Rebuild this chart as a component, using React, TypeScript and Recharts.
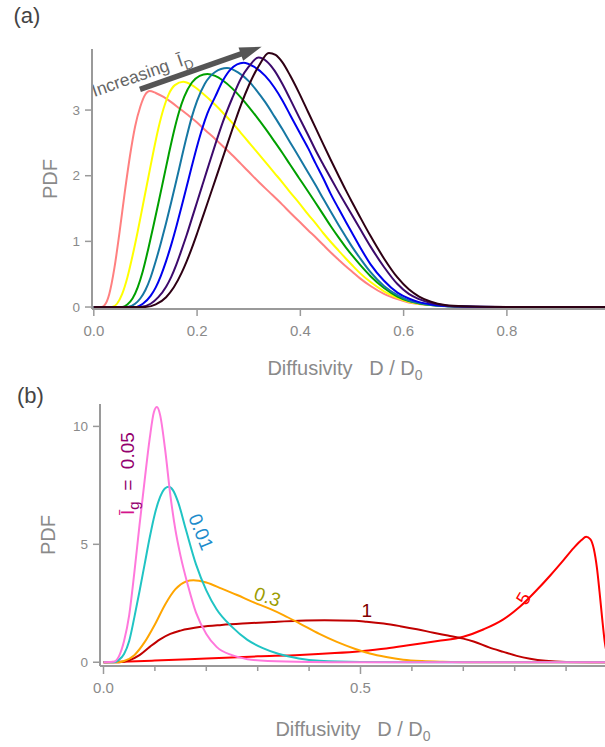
import { LineChart, Line, XAxis, YAxis, ReferenceLine, ReferenceDot } from 'recharts';

const FONT = '"Liberation Sans", Arial, sans-serif';
const AXIS = '#9a9a9a';
const TICK = '#8a8a8a';

// panel (a): PDF curves for increasing I_D, [D/D0, PDF]
const curveA1 = [[0, 0], [0.015, 0], [0.022, 0.04], [0.03, 0.2], [0.04, 0.6], [0.05, 1.15], [0.06, 1.75], [0.07, 2.3], [0.08, 2.75], [0.09, 3.05], [0.1, 3.24], [0.108, 3.29], [0.12, 3.26], [0.135, 3.2], [0.15, 3.12], [0.165, 3.03], [0.183, 2.92], [0.2, 2.81], [0.215, 2.7], [0.235, 2.56], [0.25, 2.45], [0.27, 2.3], [0.285, 2.18], [0.3, 2.06], [0.32, 1.9], [0.34, 1.75], [0.365, 1.56], [0.38, 1.44], [0.397, 1.31], [0.415, 1.17], [0.43, 1.06], [0.445, 0.94], [0.459, 0.83], [0.474, 0.72], [0.488, 0.62], [0.5, 0.54], [0.515, 0.44], [0.536, 0.32], [0.562, 0.2], [0.588, 0.12], [0.61, 0.07], [0.63, 0.045], [0.653, 0.03], [0.7, 0.01], [0.75, 0], [0.99, 0]];
const curveA2 = [[0, 0], [0.035, 0], [0.045, 0.05], [0.055, 0.2], [0.065, 0.45], [0.075, 0.78], [0.085, 1.15], [0.095, 1.55], [0.105, 1.95], [0.115, 2.35], [0.125, 2.72], [0.135, 3.02], [0.145, 3.24], [0.157, 3.38], [0.173, 3.43], [0.19, 3.38], [0.21, 3.26], [0.235, 3.08], [0.25, 2.96], [0.27, 2.79], [0.285, 2.65], [0.3, 2.51], [0.315, 2.37], [0.332, 2.21], [0.35, 2.04], [0.365, 1.9], [0.38, 1.75], [0.397, 1.59], [0.415, 1.41], [0.43, 1.27], [0.445, 1.12], [0.459, 0.99], [0.474, 0.86], [0.488, 0.74], [0.5, 0.64], [0.515, 0.52], [0.536, 0.38], [0.562, 0.24], [0.588, 0.14], [0.61, 0.08], [0.63, 0.05], [0.653, 0.03], [0.7, 0.008], [0.76, 0], [0.99, 0]];
const curveA3 = [[0, 0], [0.055, 0], [0.065, 0.04], [0.075, 0.13], [0.085, 0.3], [0.095, 0.55], [0.105, 0.87], [0.115, 1.22], [0.125, 1.58], [0.135, 1.95], [0.145, 2.32], [0.155, 2.67], [0.165, 2.97], [0.175, 3.2], [0.19, 3.42], [0.205, 3.52], [0.22, 3.55], [0.235, 3.52], [0.25, 3.45], [0.268, 3.33], [0.285, 3.19], [0.3, 3.05], [0.315, 2.9], [0.332, 2.72], [0.35, 2.52], [0.365, 2.35], [0.38, 2.17], [0.397, 1.97], [0.415, 1.76], [0.43, 1.58], [0.445, 1.4], [0.459, 1.23], [0.474, 1.06], [0.488, 0.91], [0.5, 0.79], [0.515, 0.65], [0.536, 0.47], [0.562, 0.29], [0.588, 0.16], [0.61, 0.09], [0.63, 0.055], [0.653, 0.03], [0.7, 0.008], [0.77, 0], [0.99, 0]];
const curveA4 = [[0, 0], [0.065, 0], [0.08, 0.05], [0.09, 0.13], [0.1, 0.26], [0.11, 0.45], [0.12, 0.7], [0.13, 0.98], [0.14, 1.28], [0.15, 1.6], [0.16, 1.93], [0.17, 2.27], [0.18, 2.6], [0.19, 2.9], [0.2, 3.14], [0.215, 3.4], [0.235, 3.58], [0.258, 3.64], [0.28, 3.57], [0.3, 3.44], [0.315, 3.3], [0.332, 3.12], [0.35, 2.9], [0.365, 2.71], [0.38, 2.51], [0.397, 2.29], [0.415, 2.05], [0.43, 1.85], [0.445, 1.64], [0.459, 1.45], [0.474, 1.25], [0.488, 1.07], [0.5, 0.92], [0.515, 0.75], [0.536, 0.53], [0.562, 0.32], [0.588, 0.18], [0.61, 0.1], [0.63, 0.06], [0.653, 0.03], [0.7, 0.008], [0.78, 0], [0.99, 0]];
const curveA5 = [[0, 0], [0.08, 0], [0.095, 0.05], [0.11, 0.17], [0.12, 0.3], [0.13, 0.48], [0.14, 0.7], [0.15, 0.95], [0.16, 1.23], [0.17, 1.53], [0.18, 1.84], [0.19, 2.15], [0.2, 2.45], [0.21, 2.72], [0.22, 2.95], [0.235, 3.2], [0.25, 3.45], [0.265, 3.62], [0.29, 3.72], [0.31, 3.66], [0.332, 3.52], [0.35, 3.34], [0.365, 3.15], [0.38, 2.93], [0.397, 2.68], [0.415, 2.42], [0.43, 2.18], [0.445, 1.95], [0.459, 1.72], [0.474, 1.5], [0.488, 1.3], [0.5, 1.13], [0.515, 0.92], [0.536, 0.65], [0.562, 0.4], [0.588, 0.22], [0.61, 0.13], [0.63, 0.075], [0.653, 0.04], [0.7, 0.01], [0.78, 0], [0.99, 0]];
const curveA6 = [[0, 0], [0.09, 0], [0.11, 0.05], [0.125, 0.15], [0.14, 0.31], [0.15, 0.46], [0.16, 0.65], [0.17, 0.87], [0.18, 1.1], [0.19, 1.35], [0.2, 1.6], [0.21, 1.85], [0.22, 2.1], [0.235, 2.47], [0.25, 2.82], [0.268, 3.18], [0.285, 3.48], [0.3, 3.66], [0.319, 3.8], [0.335, 3.74], [0.35, 3.6], [0.365, 3.4], [0.38, 3.17], [0.397, 2.9], [0.415, 2.62], [0.43, 2.38], [0.445, 2.16], [0.459, 1.96], [0.474, 1.75], [0.488, 1.56], [0.5, 1.4], [0.515, 1.2], [0.536, 0.92], [0.562, 0.61], [0.588, 0.35], [0.61, 0.2], [0.63, 0.12], [0.653, 0.06], [0.68, 0.025], [0.72, 0.005], [0.8, 0], [0.99, 0]];
const curveA7 = [[0, 0], [0.1, 0], [0.12, 0.04], [0.14, 0.15], [0.155, 0.3], [0.17, 0.52], [0.18, 0.7], [0.19, 0.9], [0.2, 1.12], [0.21, 1.35], [0.22, 1.58], [0.235, 1.93], [0.25, 2.28], [0.268, 2.7], [0.285, 3.08], [0.3, 3.37], [0.32, 3.68], [0.339, 3.87], [0.352, 3.84], [0.365, 3.73], [0.38, 3.53], [0.397, 3.27], [0.415, 2.97], [0.43, 2.72], [0.445, 2.47], [0.459, 2.24], [0.474, 2.0], [0.488, 1.78], [0.5, 1.6], [0.515, 1.38], [0.536, 1.08], [0.562, 0.74], [0.588, 0.45], [0.61, 0.27], [0.63, 0.16], [0.653, 0.08], [0.68, 0.03], [0.717, 0.01], [0.8, 0], [0.99, 0]];
const colorsA = ['#ff8080', '#ffff00', '#00a000', '#1677a3', '#0000ee', '#3c0a6c', '#2e0014'];
const ticksAx = [0, 0.2, 0.4, 0.6, 0.8];
const ticksAy = [0, 1, 2, 3];

// panel (b): PDF for several I_g values
const curveB005 = [[0, 0], [0.02, 0.02], [0.03, 0.25], [0.04, 0.9], [0.05, 2.0], [0.06, 3.8], [0.07, 5.8], [0.08, 7.7], [0.09, 9.5], [0.098, 10.6], [0.104, 10.82], [0.11, 10.5], [0.12, 9.0], [0.13, 7.1], [0.14, 5.6], [0.15, 4.5], [0.165, 3.2], [0.18, 2.1], [0.2, 1.2], [0.22, 0.65], [0.25, 0.3], [0.28, 0.13], [0.32, 0.05], [0.4, 0.01], [0.5, 0], [0.98, 0]];
const curveB001 = [[0, 0], [0.02, 0], [0.03, 0.1], [0.04, 0.35], [0.05, 0.9], [0.06, 1.9], [0.07, 3.0], [0.08, 4.15], [0.09, 5.3], [0.1, 6.3], [0.11, 7.0], [0.12, 7.38], [0.127, 7.44], [0.135, 7.3], [0.145, 6.8], [0.16, 5.65], [0.18, 4.15], [0.2, 3.05], [0.22, 2.25], [0.25, 1.5], [0.28, 0.95], [0.31, 0.6], [0.34, 0.36], [0.38, 0.16], [0.42, 0.06], [0.5, 0.01], [0.6, 0], [0.98, 0]];
const curveB03 = [[0, 0], [0.03, 0], [0.04, 0.05], [0.06, 0.3], [0.08, 0.85], [0.1, 1.6], [0.12, 2.45], [0.14, 3.1], [0.16, 3.42], [0.175, 3.48], [0.2, 3.38], [0.23, 3.12], [0.26, 2.85], [0.29, 2.56], [0.324, 2.26], [0.35, 2.0], [0.382, 1.64], [0.42, 1.2], [0.454, 0.86], [0.49, 0.56], [0.518, 0.37], [0.55, 0.22], [0.583, 0.11], [0.62, 0.05], [0.66, 0.02], [0.72, 0], [0.98, 0]];
const curveB1 = [[0, 0], [0.03, 0], [0.05, 0.08], [0.07, 0.3], [0.09, 0.65], [0.11, 0.97], [0.13, 1.2], [0.15, 1.34], [0.19, 1.5], [0.23, 1.58], [0.28, 1.65], [0.33, 1.71], [0.38, 1.76], [0.43, 1.78], [0.49, 1.76], [0.512, 1.72], [0.545, 1.64], [0.577, 1.53], [0.61, 1.4], [0.642, 1.25], [0.67, 1.13], [0.7, 1.0], [0.72, 0.88], [0.75, 0.63], [0.778, 0.44], [0.804, 0.27], [0.83, 0.15], [0.86, 0.06], [0.9, 0.01], [0.95, 0], [0.98, 0]];
const curveB5 = [[0, 0], [0.05, 0.03], [0.1, 0.07], [0.2, 0.16], [0.3, 0.25], [0.382, 0.31], [0.45, 0.39], [0.5, 0.47], [0.55, 0.58], [0.6, 0.74], [0.65, 0.9], [0.7, 1.08], [0.74, 1.4], [0.778, 1.82], [0.81, 2.35], [0.843, 3.06], [0.87, 3.7], [0.895, 4.33], [0.915, 4.85], [0.93, 5.18], [0.939, 5.32], [0.947, 5.22], [0.954, 4.8], [0.96, 4.0], [0.965, 3.0], [0.97, 1.9], [0.975, 0.9], [0.98, 0.3], [0.985, 0]];
const ticksBx = [0, 0.1, 0.2, 0.3, 0.4, 0.5, 0.6, 0.7, 0.8, 0.9];
const ticksBy = [0, 5, 10];

const toPoints = (pairs: number[][]) => pairs.map(([x, v]) => ({ x, v }));

const seriesA = [curveA1, curveA2, curveA3, curveA4, curveA5, curveA6, curveA7].map((c, i) => ({
  data: toPoints(c),
  color: colorsA[i],
}));

const seriesB = [
  { data: toPoints(curveB5), color: '#ff0000' },
  { data: toPoints(curveB1), color: '#c00000' },
  { data: toPoints(curveB03), color: '#ffa500' },
  { data: toPoints(curveB001), color: '#20c4c4' },
  { data: toPoints(curveB005), color: '#ff78dc' },
];

function XTickA(props: any) {
  const { x, y, payload } = props;
  return (
    <g>
      <line x1={x} y1={y} x2={x} y2={y + 7} stroke={AXIS} strokeWidth={1.5} />
      <text x={x} y={y + 27} textAnchor="middle" fill={TICK} fontSize={15} fontFamily={FONT}>
        {payload.value.toFixed(1)}
      </text>
    </g>
  );
}

function XTickB(props: any) {
  const { x, y, payload } = props;
  const major = payload.value === 0 || payload.value === 0.5;
  return (
    <g>
      <line x1={x} y1={y} x2={x} y2={y + (major ? 8 : 5)} stroke={AXIS} strokeWidth={1.5} />
      {major && (
        <text x={x} y={y + 27} textAnchor="middle" fill={TICK} fontSize={15} fontFamily={FONT}>
          {payload.value.toFixed(1)}
        </text>
      )}
    </g>
  );
}

function YTick(props: any) {
  const { x, y, payload } = props;
  return (
    <g>
      <line x1={x - 7} y1={y} x2={x} y2={y} stroke={AXIS} strokeWidth={1.5} />
      <text x={x - 12} y={y} dy="0.35em" textAnchor="end" fill={TICK} fontSize={13.5} fontFamily={FONT}>
        {payload.value}
      </text>
    </g>
  );
}

// thick arrow with the "Increasing I_D" caption along it
function IncreasingArrow(props: any) {
  const { x1, y1, x2, y2 } = props;
  const ang = Math.atan2(y2 - y1, x2 - x1);
  const c = Math.cos(ang);
  const s = Math.sin(ang);
  const head = 22;
  const half = 7;
  const bx = x2 - head * c;
  const by = y2 - head * s;
  const pts = `${x2},${y2} ${bx - half * s},${by + half * c} ${bx + half * s},${by - half * c}`;
  const tx = x1 - 45.6 * c + 7.9 * s;
  const ty = y1 - 45.6 * s - 7.9 * c;
  const deg = (ang * 180) / Math.PI;
  return (
    <g>
      <line x1={x1} y1={y1} x2={bx + c} y2={by + s} stroke="#555" strokeWidth={5.5} />
      <polygon points={pts} fill="#555" />
      <text
        x={tx}
        y={ty}
        transform={`rotate(${deg} ${tx} ${ty})`}
        fill="#666"
        fontSize={17.5}
        fontFamily={FONT}
        style={{ whiteSpace: 'pre' }}
      >
        {'Increasing  Ī'}
        <tspan dy={5} fontSize={13}>D</tspan>
      </text>
    </g>
  );
}

function curveLabel(content: any, rotate: number) {
  return (p: any) => (
    <text
      transform={`translate(${p.cx},${p.cy}) rotate(${rotate})`}
      textAnchor="middle"
      dy="0.35em"
      fontSize={19}
      fontFamily={FONT}
      style={{ whiteSpace: 'pre' }}
    >
      {content}
    </text>
  );
}

export default function App() {
  return (
    <div style={{ position: 'absolute', left: 0, top: 0, width: 605, height: 747, background: '#fff', fontFamily: FONT }}>
      <div style={{ position: 'absolute', left: 0, top: 0 }}>
        <LineChart width={605} height={380} margin={{ top: 49, right: 0, bottom: 41, left: 0 }}>
          <XAxis
            dataKey="x"
            type="number"
            domain={[-0.0035, 0.99]}
            allowDataOverflow
            ticks={ticksAx}
            height={30}
            tick={<XTickA />}
            tickLine={false}
            tickSize={0}
            tickMargin={0}
            axisLine={{ stroke: AXIS, strokeWidth: 2 }}
          />
          <XAxis xAxisId="top" orientation="top" type="number" domain={[-0.0035, 0.99]} height={0} tick={false} tickLine={false} axisLine={{ stroke: AXIS, strokeWidth: 2 }} />
          <YAxis
            type="number"
            domain={[-0.03, 3.93]}
            allowDataOverflow
            ticks={ticksAy}
            width={92}
            tick={<YTick />}
            tickLine={false}
            tickSize={0}
            tickMargin={0}
            axisLine={{ stroke: AXIS, strokeWidth: 2 }}
          />
          {seriesA.map((s, i) => (
            <Line key={i} data={s.data} dataKey="v" type="monotone" stroke={s.color} strokeWidth={2} dot={false} isAnimationActive={false} />
          ))}
          <ReferenceLine
            segment={[{ x: 0.0894, y: 3.315 }, { x: 0.325, y: 3.964 }]}
            ifOverflow="visible"
            shape={IncreasingArrow}
          />
        </LineChart>
      </div>

      <div style={{ position: 'absolute', left: 0, top: 380 }}>
        <LineChart width={605} height={367} margin={{ top: 24, right: 0, bottom: 51, left: 0 }}>
          <XAxis
            dataKey="x"
            type="number"
            domain={[-0.0068, 0.9757]}
            allowDataOverflow
            ticks={ticksBx}
            height={30}
            tick={<XTickB />}
            tickLine={false}
            tickSize={0}
            tickMargin={0}
            axisLine={{ stroke: AXIS, strokeWidth: 2 }}
          />
          <XAxis xAxisId="top" orientation="top" type="number" domain={[-0.0068, 0.9757]} height={0} tick={false} tickLine={false} axisLine={{ stroke: AXIS, strokeWidth: 2 }} />
          <YAxis
            type="number"
            domain={[-0.16, 10.95]}
            allowDataOverflow
            ticks={ticksBy}
            width={100}
            tick={<YTick />}
            tickLine={false}
            tickSize={0}
            tickMargin={0}
            axisLine={{ stroke: AXIS, strokeWidth: 2 }}
          />
          {seriesB.map((s, i) => (
            <Line key={i} data={s.data} dataKey="v" type="monotone" stroke={s.color} strokeWidth={2} dot={false} isAnimationActive={false} />
          ))}
          <ReferenceDot
            x={0.0457}
            y={8.0}
            r={0}
            shape={curveLabel(
              <>
                <tspan fill="#d4148c">Ī</tspan>
                <tspan fill="#94006e" dy={5} fontSize={15}>g</tspan>
                <tspan fill="#94006e" dy={-5}>{'  =  0.05'}</tspan>
              </>,
              -90
            )}
          />
          <ReferenceDot x={0.19} y={5.53} r={0} shape={curveLabel(<tspan fill="#1c8ccc">0.01</tspan>, 68)} />
          <ReferenceDot x={0.319} y={2.78} r={0} shape={curveLabel(<tspan fill="#9c9c00">0.3</tspan>, 18)} />
          <ReferenceDot x={0.512} y={2.21} r={0} shape={curveLabel(<tspan fill="#800000">1</tspan>, 0)} />
          <ReferenceDot x={0.817} y={2.71} r={0} shape={curveLabel(<tspan fill="#ff0000">5</tspan>, -60)} />
        </LineChart>
      </div>

      <svg width={605} height={747} style={{ position: 'absolute', left: 0, top: 0, pointerEvents: 'none' }}>
        <text x={13.5} y={22.7} fontSize={22} fill="#444" fontFamily={FONT}>(a)</text>
        <text x={17} y={403.3} fontSize={22} fill="#444" fontFamily={FONT}>(b)</text>
        <text transform="translate(56.5,179) rotate(-90)" textAnchor="middle" fontSize={20} fill={TICK} fontFamily={FONT}>PDF</text>
        <text transform="translate(55,535) rotate(-90)" textAnchor="middle" fontSize={20} fill={TICK} fontFamily={FONT}>PDF</text>
        <text x={345} y={375} textAnchor="middle" fontSize={20} fill={TICK} fontFamily={FONT} style={{ whiteSpace: 'pre' }}>
          {'Diffusivity   D / D'}
          <tspan dy={5} fontSize={14}>0</tspan>
        </text>
        <text x={353} y={736} textAnchor="middle" fontSize={20} fill={TICK} fontFamily={FONT} style={{ whiteSpace: 'pre' }}>
          {'Diffusivity   D / D'}
          <tspan dy={5} fontSize={14}>0</tspan>
        </text>
      </svg>
    </div>
  );
}
